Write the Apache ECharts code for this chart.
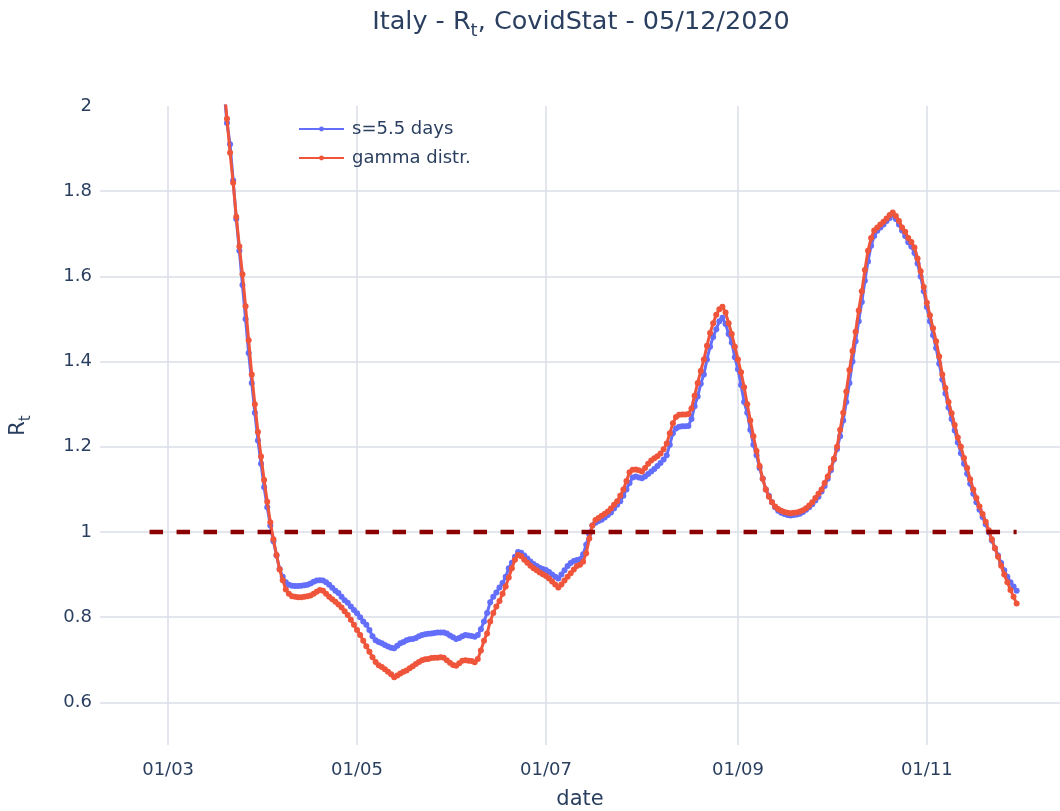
<!DOCTYPE html>
<html>
<head>
<meta charset="utf-8">
<title>Italy - Rt, CovidStat</title>
<script src="https://cdn.jsdelivr.net/npm/echarts@6/dist/echarts.min.js"></script>
<style>
  html, body { margin: 0; padding: 0; background: #ffffff; }
  #chart { width: 1060px; height: 811px; }
</style>
</head>
<body>
<div id="chart"></div>
<script>
// Daily Rt estimates for Italy, one value per day starting on START_DATE (up to 30/11/2020).
// Values before ~20/03 sit above the visible range and are only rough guesses.
var START_DATE = '2020-03-18';

// s=5.5 days (fixed serial interval)
var rtSerial = [
  2.1, 2.04, 1.96, 1.91, 1.825, 1.735, 1.66, 1.58, 1.5, 1.42,
  1.35, 1.28, 1.215, 1.16, 1.105, 1.058, 1.015, 0.978, 0.945, 0.913,
  0.895, 0.882, 0.876, 0.874, 0.873, 0.873, 0.874, 0.875, 0.876, 0.879,
  0.883, 0.886, 0.887, 0.886, 0.882, 0.876, 0.869, 0.862, 0.857, 0.848,
  0.84, 0.834, 0.825, 0.817, 0.809, 0.8, 0.79, 0.782, 0.77, 0.755,
  0.746, 0.742, 0.739, 0.735, 0.731, 0.728, 0.727, 0.733, 0.739, 0.742,
  0.746, 0.748, 0.749, 0.751, 0.755, 0.758, 0.76, 0.761, 0.762, 0.763,
  0.764, 0.764, 0.764, 0.762, 0.757, 0.753, 0.749, 0.751, 0.755, 0.758,
  0.757, 0.756, 0.754, 0.758, 0.772, 0.79, 0.81, 0.835, 0.848, 0.858,
  0.87, 0.88, 0.895, 0.915, 0.928, 0.942, 0.953, 0.951, 0.945, 0.938,
  0.931, 0.925, 0.92, 0.916, 0.913, 0.911, 0.906, 0.9, 0.895, 0.891,
  0.9, 0.91, 0.92, 0.927, 0.932, 0.934, 0.936, 0.948, 0.97, 0.995,
  1.015, 1.022, 1.026, 1.029, 1.034, 1.04, 1.046, 1.055, 1.064, 1.072,
  1.085, 1.1, 1.115, 1.128, 1.13, 1.128, 1.126, 1.13, 1.136, 1.142,
  1.148, 1.155, 1.162, 1.17, 1.18, 1.205, 1.232, 1.243, 1.247, 1.248,
  1.248, 1.249, 1.265, 1.295, 1.318, 1.348, 1.37, 1.405, 1.435, 1.458,
  1.476, 1.495, 1.503, 1.488, 1.465, 1.445, 1.41, 1.382, 1.345, 1.305,
  1.28, 1.24, 1.205, 1.18, 1.15, 1.125, 1.1, 1.085, 1.07, 1.058,
  1.05, 1.045, 1.042, 1.04, 1.039, 1.04, 1.041, 1.043, 1.047, 1.052,
  1.058, 1.065, 1.074, 1.083, 1.095, 1.108, 1.125, 1.145, 1.17, 1.195,
  1.225, 1.262, 1.305, 1.35, 1.4, 1.448, 1.495, 1.54, 1.59, 1.635,
  1.672, 1.695, 1.707, 1.715, 1.722, 1.73, 1.737, 1.744, 1.735, 1.722,
  1.708, 1.695, 1.68, 1.67, 1.655, 1.63, 1.6, 1.565, 1.528, 1.495,
  1.462, 1.432, 1.395, 1.358, 1.325, 1.292, 1.265, 1.238, 1.21, 1.185,
  1.16, 1.137, 1.113, 1.09, 1.07, 1.052, 1.035, 1.018, 1.0, 0.98,
  0.962, 0.945, 0.927, 0.91, 0.895, 0.882, 0.872, 0.862
];

// gamma distr. serial interval
var rtGamma = [
  2.12, 2.05, 1.97, 1.89, 1.82, 1.74, 1.67, 1.605, 1.53, 1.45,
  1.37, 1.30, 1.235, 1.177, 1.122, 1.071, 1.023, 0.983, 0.946, 0.912,
  0.887, 0.865, 0.855, 0.849, 0.848, 0.847, 0.847, 0.848, 0.849, 0.851,
  0.855, 0.86, 0.864, 0.862, 0.855, 0.848, 0.842, 0.836, 0.83, 0.823,
  0.814, 0.805, 0.794, 0.782, 0.77, 0.758, 0.745, 0.732, 0.719, 0.706,
  0.695, 0.687, 0.683, 0.678, 0.672, 0.666, 0.659, 0.663, 0.668, 0.672,
  0.675, 0.68, 0.685, 0.69, 0.695, 0.699, 0.701, 0.702, 0.704, 0.705,
  0.705, 0.706, 0.705, 0.699, 0.693, 0.688, 0.686, 0.692, 0.698, 0.699,
  0.698, 0.697, 0.694, 0.702, 0.722, 0.745, 0.762, 0.79, 0.81, 0.825,
  0.838, 0.855, 0.872, 0.893, 0.915, 0.935, 0.946, 0.943, 0.935, 0.928,
  0.921, 0.915, 0.91, 0.905, 0.901, 0.897, 0.891, 0.884, 0.877, 0.87,
  0.877, 0.886, 0.895, 0.903, 0.912, 0.92, 0.923, 0.93, 0.95, 0.985,
  1.015, 1.028, 1.033, 1.038, 1.043, 1.048, 1.055, 1.064, 1.072, 1.085,
  1.1, 1.12, 1.14, 1.146, 1.147, 1.145, 1.142, 1.15, 1.16, 1.168,
  1.173, 1.178, 1.184, 1.194, 1.208, 1.232, 1.255, 1.27, 1.275, 1.276,
  1.276, 1.277, 1.29, 1.32, 1.35, 1.378, 1.405, 1.437, 1.467, 1.49,
  1.51, 1.523, 1.529, 1.515, 1.49, 1.465, 1.435, 1.405, 1.375, 1.34,
  1.3, 1.262, 1.225, 1.19, 1.155, 1.125, 1.1, 1.083, 1.07, 1.06,
  1.054, 1.05, 1.047, 1.045, 1.044, 1.045, 1.046, 1.048, 1.051, 1.056,
  1.062, 1.07, 1.08, 1.09, 1.1, 1.115, 1.13, 1.15, 1.172, 1.2,
  1.24, 1.28, 1.33, 1.38, 1.425, 1.47, 1.52, 1.565, 1.615, 1.66,
  1.69, 1.708, 1.715, 1.722, 1.728, 1.736, 1.744, 1.75, 1.742, 1.73,
  1.715, 1.705, 1.69, 1.681, 1.668, 1.642, 1.612, 1.575, 1.538, 1.509,
  1.478, 1.448, 1.412, 1.37, 1.338, 1.305, 1.279, 1.251, 1.222, 1.2,
  1.174, 1.15, 1.124, 1.1, 1.08, 1.06, 1.042, 1.024, 1.004, 0.983,
  0.962, 0.942, 0.921, 0.9, 0.882, 0.864, 0.848, 0.832
];

// Rt = 1 reference line
var thresholdDates = ['2020-02-24', '2020-11-30'];
var thresholdValues = [1, 1];

var xTickDates = ['2020-03-01', '2020-05-01', '2020-07-01', '2020-09-01', '2020-11-01'];
var xRange = ['2020-02-08', '2020-12-14'];
var yTickLabels = [0.6, 0.8, 1, 1.2, 1.4, 1.6, 1.8, 2];
var yGridValues = [0.6, 0.8, 1, 1.2, 1.4, 1.6, 1.8];  // no line drawn on the top edge
var yRange = [0.5, 2];

var TEXT = '#2a3f5f';
var GRID = '#dadee6';
var FONT = 'DejaVu Sans';

function utc(s) {
  var p = s.split('-');
  return Date.UTC(+p[0], +p[1] - 1, +p[2]);
}
function pad(n) { return (n < 10 ? '0' : '') + n; }

var DAY = 24 * 3600 * 1000;
var t0 = utc(START_DATE);
function toPairs(values) {
  return values.map(function (v, i) { return [t0 + i * DAY, v]; });
}

var chart = echarts.init(document.getElementById('chart'), null, { renderer: 'canvas' });

chart.setOption({
  animation: false,
  backgroundColor: '#ffffff',
  textStyle: { fontFamily: FONT },
  title: {
    text: 'Italy - R{sub|t}, CovidStat - 05/12/2020',
    left: 581,
    top: 4,
    padding: 0,
    textAlign: 'center',
    textStyle: {
      fontFamily: FONT, fontSize: 25.5, fontWeight: 'normal', color: TEXT, lineHeight: 36,
      rich: { sub: { fontFamily: FONT, fontSize: 18, color: TEXT, lineHeight: 18, verticalAlign: 'bottom' } }
    }
  },
  legend: {
    orient: 'vertical',
    left: 298,
    top: 120,
    padding: 0,
    itemWidth: 45,
    itemHeight: 6,
    itemGap: 11,
    data: ['s=5.5 days', 'gamma distr.'],
    textStyle: { fontFamily: FONT, fontSize: 18, color: TEXT, padding: [0, 0, 0, 3] }
  },
  grid: { left: 100, right: 0, top: 106, bottom: 66, containLabel: false, outerBoundsMode: 'none' },
  xAxis: {
    // timestamps on a plain value axis so the ticks can be pinned to chosen dates
    type: 'value',
    min: utc(xRange[0]),
    max: utc(xRange[1]),
    name: 'date',
    nameLocation: 'middle',
    nameGap: 44,
    nameTextStyle: { fontFamily: FONT, fontSize: 21, color: TEXT },
    axisLine: { show: false },
    axisTick: { show: false, customValues: xTickDates.map(utc) },
    axisLabel: {
      customValues: xTickDates.map(utc),
      fontFamily: FONT, fontSize: 18, color: TEXT, margin: 16,
      formatter: function (v) {
        var d = new Date(v);
        return pad(d.getUTCDate()) + '/' + pad(d.getUTCMonth() + 1);
      }
    },
    splitLine: { show: true, lineStyle: { color: GRID, width: 1.5 } }
  },
  yAxis: {
    type: 'value',
    min: yRange[0],
    max: yRange[1],
    name: 'R{sub|t}',
    nameLocation: 'middle',
    nameRotate: 90,
    nameGap: 66,
    nameTextStyle: {
      fontFamily: FONT, fontSize: 21, color: TEXT, lineHeight: 30,
      rich: { sub: { fontFamily: FONT, fontSize: 15, color: TEXT, lineHeight: 15, verticalAlign: 'bottom' } }
    },
    axisLine: { show: false },
    axisTick: { show: false, customValues: yGridValues },
    axisLabel: { customValues: yTickLabels, fontFamily: FONT, fontSize: 18, color: TEXT, margin: 8 },
    splitLine: { show: true, lineStyle: { color: GRID, width: 1.5 } }
  },
  series: [
    {
      name: 's=5.5 days',
      type: 'line',
      data: toPairs(rtSerial),
      symbol: 'circle',
      symbolSize: 6,
      showAllSymbol: true,
      lineStyle: { width: 3, color: '#636efa' },
      itemStyle: { color: '#636efa' },
      z: 2
    },
    {
      name: 'gamma distr.',
      type: 'line',
      data: toPairs(rtGamma),
      symbol: 'circle',
      symbolSize: 6,
      showAllSymbol: true,
      lineStyle: { width: 3, color: '#ef553b' },
      itemStyle: { color: '#ef553b' },
      z: 3
    },
    {
      name: 'Rt = 1',
      type: 'line',
      data: thresholdDates.map(function (d, i) { return [utc(d), thresholdValues[i]]; }),
      symbol: 'none',
      lineStyle: { width: 4.5, color: '#8b0000', type: [13.5, 13.5] },
      z: 4
    }
  ]
});
</script>
</body>
</html>
